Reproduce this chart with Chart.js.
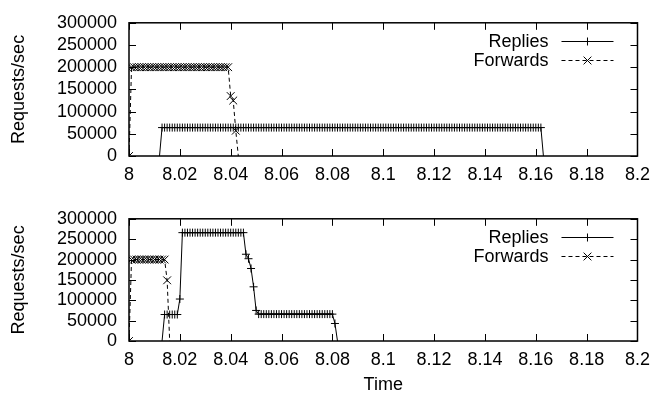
<!DOCTYPE html>
<html>
<head>
<meta charset="utf-8">
<script src="https://cdn.jsdelivr.net/npm/chart.js@4.4.1/dist/chart.umd.min.js"></script>
<style>
  html, body { margin: 0; padding: 0; background: #fff; }
  #wrap { position: relative; width: 658px; height: 396px; }
  canvas { position: absolute; left: 0; }
</style>
</head>
<body>
<div id="wrap">
  <canvas id="c1" width="658" height="196" style="top:0px"></canvas>
  <canvas id="c2" width="658" height="200" style="top:196px"></canvas>
</div>
<script>
// ---- Data (time given as milliseconds after 8 s) ----
const xTicks = [8, 8.02, 8.04, 8.06, 8.08, 8.1, 8.12, 8.14, 8.16, 8.18, 8.2];
const xTickLabels = ['8', '8.02', '8.04', '8.06', '8.08', '8.1', '8.12', '8.14', '8.16', '8.18', '8.2'];
const yTicks = [0, 50000, 100000, 150000, 200000, 250000, 300000];
const yTickLabels = ['0', '50000', '100000', '150000', '200000', '250000', '300000'];
const seriesNames = ['Replies', 'Forwards'];

// Top panel
const topRepliesT = [12,
  13,14,15,16,17,18,19,20,21,22,
  23,24,25,26,27,28,29,30,31,32,
  33,34,35,36,37,38,39,40,41,42,
  43,44,45,46,47,48,49,50,51,52,
  53,54,55,56,57,58,59,60,61,62,
  63,64,65,66,67,68,69,70,71,72,
  73,74,75,76,77,78,79,80,81,82,
  83,84,85,86,87,88,89,90,91,92,
  93,94,95,96,97,98,99,100,101,102,
  103,104,105,106,107,108,109,110,111,112,
  113,114,115,116,117,118,119,120,121,122,
  123,124,125,126,127,128,129,130,131,132,
  133,134,135,136,137,138,139,140,141,142,
  143,144,145,146,147,148,149,150,151,152,
  153,154,155,156,157,158,159,160,161,162,
  163];
const topRepliesV = [0,
  64000,64000,64000,64000,64000,64000,64000,64000,64000,64000,
  64000,64000,64000,64000,64000,64000,64000,64000,64000,64000,
  64000,64000,64000,64000,64000,64000,64000,64000,64000,64000,
  64000,64000,64000,64000,64000,64000,64000,64000,64000,64000,
  64000,64000,64000,64000,64000,64000,64000,64000,64000,64000,
  64000,64000,64000,64000,64000,64000,64000,64000,64000,64000,
  64000,64000,64000,64000,64000,64000,64000,64000,64000,64000,
  64000,64000,64000,64000,64000,64000,64000,64000,64000,64000,
  64000,64000,64000,64000,64000,64000,64000,64000,64000,64000,
  64000,64000,64000,64000,64000,64000,64000,64000,64000,64000,
  64000,64000,64000,64000,64000,64000,64000,64000,64000,64000,
  64000,64000,64000,64000,64000,64000,64000,64000,64000,64000,
  64000,64000,64000,64000,64000,64000,64000,64000,64000,64000,
  64000,64000,64000,64000,64000,64000,64000,64000,64000,64000,
  64000,64000,64000,64000,64000,64000,64000,64000,64000,64000,
  0];
const topForwardsT = [0,
  1,2,3,4,5,6,7,8,9,10,
  11,12,13,14,15,16,17,18,19,20,
  21,22,23,24,25,26,27,28,29,30,
  31,32,33,34,35,36,37,38,39,
  40,41,42,43];
const topForwardsV = [0,
  200000,200000,200000,200000,200000,200000,200000,200000,200000,200000,
  200000,200000,200000,200000,200000,200000,200000,200000,200000,200000,
  200000,200000,200000,200000,200000,200000,200000,200000,200000,200000,
  200000,200000,200000,200000,200000,200000,200000,200000,200000,
  135000,125000,57000,0];

// Bottom panel
const botRepliesT = [13,
  14,15,16,17,18,19,
  20,
  21,22,23,24,25,26,27,28,29,30,
  31,32,33,34,35,36,37,38,39,40,
  41,42,43,44,45,
  46,47,48,49,50,
  51,52,53,54,55,56,57,58,59,60,
  61,62,63,64,65,66,67,68,69,70,
  71,72,73,74,75,76,77,78,79,80,
  81,82];
const botRepliesV = [0,
  65000,65000,65000,65000,65000,65000,
  103000,
  266000,266000,266000,266000,266000,266000,266000,266000,266000,266000,
  266000,266000,266000,266000,266000,266000,266000,266000,266000,266000,
  266000,266000,266000,266000,266000,
  213000,202000,178000,133000,75000,
  66000,66000,66000,66000,66000,66000,66000,66000,66000,66000,
  66000,66000,66000,66000,66000,66000,66000,66000,66000,66000,
  66000,66000,66000,66000,66000,66000,66000,66000,66000,66000,
  43000,0];
const botForwardsT = [0,
  1,2,3,4,5,6,7,8,9,10,11,12,13,14,
  15,16];
const botForwardsV = [0,
  200000,200000,200000,200000,200000,200000,200000,200000,200000,200000,200000,200000,200000,200000,
  149000,0];

// ---- Rendering ----
const FONT = "'Liberation Sans', Arial, sans-serif";
const FSIZE = 18;
const toPts = (T, V) => T.map((t, i) => ({ x: 8 + t / 1000, y: V[i] }));

const markerRadius = (r) => (ctx) => {
  const p = ctx.raw;
  if (!p) return r;
  return (p.y === 0 && p.x !== 8) ? 0 : r;
};

function drawMarker(ctx, style, x, y, r) {
  ctx.beginPath();
  if (style === 'cross') {
    ctx.moveTo(x - r, y); ctx.lineTo(x + r, y);
    ctx.moveTo(x, y - r); ctx.lineTo(x, y + r);
  } else {
    const d = r * Math.SQRT1_2;
    ctx.moveTo(x - d, y - d); ctx.lineTo(x + d, y + d);
    ctx.moveTo(x - d, y + d); ctx.lineTo(x + d, y - d);
  }
  ctx.stroke();
}

const framePlugin = {
  id: 'gnuframe',
  afterDatasetsDraw(chart) {
    const { ctx, chartArea: a, scales: { x, y } } = chart;
    const L = 7;
    ctx.save();
    ctx.strokeStyle = '#000';
    ctx.lineWidth = 1;
    ctx.setLineDash([]);
    ctx.beginPath();
    x.ticks.forEach(t => {
      const px = Math.round(x.getPixelForValue(t.value)) + 0.5;
      ctx.moveTo(px, a.bottom); ctx.lineTo(px, a.bottom - L);
      ctx.moveTo(px, a.top); ctx.lineTo(px, a.top + L);
    });
    y.ticks.forEach(t => {
      const py = Math.round(y.getPixelForValue(t.value)) + 0.5;
      ctx.moveTo(a.left, py); ctx.lineTo(a.left + L, py);
      ctx.moveTo(a.right, py); ctx.lineTo(a.right - L, py);
    });
    ctx.stroke();
    ctx.lineWidth = 1.5;
    ctx.strokeRect(a.left, a.top, a.right - a.left, a.bottom - a.top);

    // legend (gnuplot style, top right inside the frame)
    ctx.font = FSIZE + 'px ' + FONT;
    ctx.fillStyle = '#000';
    ctx.textAlign = 'right';
    ctx.textBaseline = 'middle';
    chart.data.datasets.forEach((ds, i) => {
      const ly = a.top + 18 + i * 19;
      ctx.fillText(ds.label, a.right - 89, ly + 1);
      ctx.lineWidth = 1;
      ctx.setLineDash(ds.borderDash || []);
      ctx.beginPath();
      ctx.moveTo(a.right - 76, Math.round(ly) + 0.5);
      ctx.lineTo(a.right - 24, Math.round(ly) + 0.5);
      ctx.stroke();
      ctx.setLineDash([]);
      drawMarker(ctx, ds.pointStyle, a.right - 50, Math.round(ly) + 0.5, ds.legendR);
    });
    ctx.restore();
  }
};

function makeChart(id, replies, forwards, cfg) {
  return new Chart(document.getElementById(id), {
    type: 'line',
    data: {
      datasets: [
        {
          label: seriesNames[0], data: replies,
          borderColor: '#000', borderWidth: 1, tension: 0,
          pointStyle: 'cross', pointRadius: markerRadius(4), pointBorderWidth: 1,
          pointBorderColor: '#000', pointBackgroundColor: 'rgba(0,0,0,0)', legendR: 4
        },
        {
          label: seriesNames[1], data: forwards,
          borderColor: '#000', borderWidth: 1, tension: 0, borderDash: [4, 3],
          pointStyle: 'crossRot', pointRadius: markerRadius(5.5), pointBorderWidth: 1,
          pointBorderColor: '#000', pointBackgroundColor: 'rgba(0,0,0,0)', legendR: 5.5
        }
      ]
    },
    options: {
      responsive: false,
      devicePixelRatio: 1,
      animation: false,
      events: [],
      layout: { padding: { top: cfg.padTop, right: 17, left: 0, bottom: 0 } },
      plugins: { legend: { display: false }, tooltip: { enabled: false } },
      scales: {
        x: {
          type: 'linear', min: 8, max: 8.2,
          grid: { display: false, drawTicks: false },
          border: { display: false },
          afterBuildTicks: (s) => { s.ticks = xTicks.map(v => ({ value: v })); },
          afterFit: (s) => { s.height = cfg.xHeight; },
          ticks: {
            color: '#000', padding: 8, maxRotation: 0, autoSkip: false,
            font: { family: FONT, size: FSIZE },
            callback: (v, i) => xTickLabels[i]
          },
          title: {
            display: cfg.xTitle, text: 'Time', color: '#000',
            font: { family: FONT, size: FSIZE }, padding: { top: 0, bottom: 0 }
          }
        },
        y: {
          type: 'linear', min: 0, max: 300000,
          grid: { display: false, drawTicks: false },
          border: { display: false },
          afterBuildTicks: (s) => { s.ticks = yTicks.map(v => ({ value: v })); },
          afterFit: (s) => { s.width = 129; },
          ticks: {
            color: '#000', padding: 12, autoSkip: false,
            font: { family: FONT, size: FSIZE },
            callback: (v, i) => yTickLabels[i]
          },
          title: {
            display: true, text: 'Requests/sec', color: '#000',
            font: { family: FONT, size: FSIZE }, padding: { top: 8, bottom: 0 }
          }
        }
      }
    },
    plugins: [framePlugin]
  });
}

makeChart('c1', toPts(topRepliesT, topRepliesV), toPts(topForwardsT, topForwardsV),
  { padTop: 15, xHeight: 40, xTitle: false });
makeChart('c2', toPts(botRepliesT, botRepliesV), toPts(botForwardsT, botForwardsV),
  { padTop: 21, xHeight: 55, xTitle: true });
</script>
</body>
</html>
